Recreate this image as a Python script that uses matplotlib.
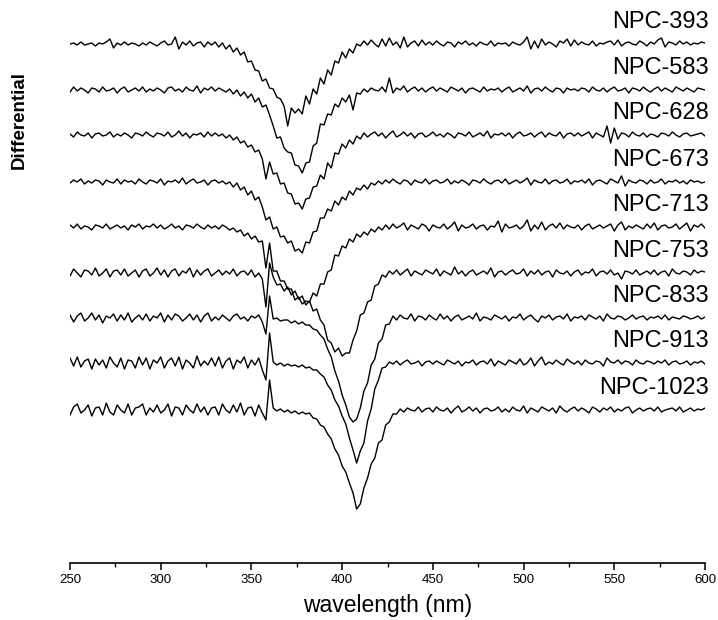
"""
stacked differential spectra of the NPC samples
"""
import numpy as np
import matplotlib
matplotlib.use('Agg')
from matplotlib import pyplot as plt
from matplotlib.ticker import MultipleLocator

plt.rcParams['font.family'] = ['Liberation Sans', 'DejaVu Sans']

# wavelength grid, 2 nm step from 250 to 600 nm
wavelength = np.arange(250, 601, 2)

labels = ['NPC-393', 'NPC-583', 'NPC-628', 'NPC-673', 'NPC-713',
          'NPC-753', 'NPC-833', 'NPC-913', 'NPC-1023']

# vertical offset of each trace (baseline)
offsets = [519, 473, 428, 381, 336, 290, 245, 200, 153]

# traces, relative to their baseline
npc_393 = [
    0, 1, -1, 2, -1, 0, 1, -2, 1, 0, 2, 5, -4, 1, -1, 2, -1, 1, 0, -2,
    1, -1, 2, 0, -2, 1, 3, -1, 0, 7, -5, 2, -1, 3, -2, 1, 2, -3, 2, -1,
    2, -3, 1, -5, -1, -8, -4, -11, -8, -18, -17, -26, -27, -37, -35, -44, -45, -53, -55, -62,
    -82, -64, -69, -65, -70, -52, -60, -45, -50, -34, -40, -26, -31, -17, -19, -8, -14, -5, -9, 0,
    -2, 3, -1, 4, 0, -3, 5, -2, 6, -1, 2, -4, 7, -3, 1, 3, -2, 4, -1, 2,
    -1, 3, 0, -2, 2, 1, -3, 2, 0, 3, -1, 1, -2, 2, 0, -1, 3, -2, 1, 0,
    1, -2, 2, 0, -1, 2, 7, -5, 3, -4, 5, -1, 2, 0, -3, 3, 1, 5, -2, 4,
    -1, 2, 0, -1, 3, -2, 1, 0, 2, 3, -1, 4, -2, 1, 2, 0, -1, 3, 1, -2,
    2, 0, 4, 6, -3, 2, 1, -1, 3, 0, 2, -1, 1, 0, 2, 1,
]
npc_583 = [
    -2, 3, -1, 2, 0, -3, 2, 1, -2, 3, -1, 0, 2, -3, 1, 3, -2, 0, 2, -1,
    3, -2, 1, -1, 2, 0, -3, 2, 3, -1, 1, -2, 3, 0, -1, 4, -3, 2, 0, 3,
    -1, 2, 0, -2, 1, -4, 0, -6, -2, -8, -4, -12, -8, -17, -15, -25, -36, -48, -47, -58,
    -62, -63, -75, -76, -83, -73, -72, -56, -53, -34, -35, -24, -25, -14, -17, -8, -12, -5, -20, -3,
    -4, 1, -2, 2, 0, -1, 3, -2, 12, -3, 2, 0, 4, -2, 1, 3, -1, 2, -2, 1,
    3, -1, 2, 0, -2, 3, 1, -1, 2, -3, 1, 2, 0, -2, 3, -1, 1, 0, 2, -2,
    1, 3, -2, 0, 2, -1, 4, -3, 1, 2, -1, 3, 0, -2, 2, 1, -3, 2, 0, 1,
    -1, 2, 1, -2, 3, 0, -1, 2, -2, 1, 3, -1, 0, 2, -3, 2, 1, -1, 3, 0,
    -2, 1, 3, -1, 2, 0, -2, 3, 1, -1, 2, 0, -2, 2, 1, 0,
]
npc_628 = [
    1, -2, 3, 0, -1, 2, -3, 1, 2, -1, 0, 3, -2, 1, -1, 2, 0, -3, 2, 1,
    -1, 3, 0, -2, 2, 1, -1, 3, -2, 0, 4, -1, 2, -3, 1, 0, 2, -2, 3, -1,
    2, -1, 1, -3, 0, -5, -2, -8, -6, -12, -10, -17, -15, -24, -44, -27, -39, -38, -49, -48,
    -58, -59, -69, -68, -74, -64, -63, -52, -51, -40, -44, -28, -33, -18, -19, -9, -13, -5, -9, -1,
    -4, 2, -2, 1, 3, -1, 2, -3, 1, 4, -2, 0, 3, -1, 2, -3, 1, 2, -2, 0,
    3, -1, 1, -2, 2, 0, -3, 2, 1, -1, 3, -2, 0, 2, -1, 4, -3, 1, 0, 2,
    -1, 2, -3, 1, 3, -1, 0, 2, -2, 1, 3, -2, 2, 0, -1, 3, -3, 1, 2, -1,
    2, -1, 1, 3, -3, 2, 0, -2, 9, -8, 7, -4, 2, 1, -2, 3, 0, -1, 2, -2,
    1, 0, -2, 2, 1, -1, 3, 0, -2, 1, 2, -1, 0, 1, 2, -1,
]
npc_673 = [
    -1, 2, 0, 3, -2, 1, -1, 2, 1, -3, 2, 0, -1, 3, -2, 2, 0, 1, -2, 3,
    0, -2, 2, 1, -1, 3, -3, 1, 0, 2, -1, 4, -2, 1, 3, -1, 0, 2, -3, 1,
    2, -1, 1, -2, 0, -5, -1, -8, -5, -13, -9, -18, -15, -25, -38, -35, -47, -45, -55, -54,
    -61, -59, -69, -67, -71, -60, -61, -50, -49, -36, -36, -27, -29, -19, -23, -15, -18, -9, -13, -6,
    -8, -3, -7, -1, -3, 1, -2, 2, -1, 3, 0, -2, 2, 1, -3, 2, 0, -1, 3, -2,
    1, 2, -1, 0, 3, -2, 1, -1, 2, 0, -3, 2, 1, -1, 3, 0, -2, 1, 2, -1,
    3, -2, 0, 2, -1, 1, 4, -3, 2, 0, -1, 3, -2, 1, 2, -1, 0, 3, -2, 1,
    0, 2, -1, 3, -3, 1, 2, 0, -2, 3, 1, -1, 6, -4, 2, 0, -1, 2, 1, -2,
    2, -1, 0, 3, -2, 1, 0, 2, -1, 1, -2, 2, 0, 1, -1, 0,
]
npc_713 = [
    2, -1, 3, -2, 1, 0, -3, 2, 1, -1, 3, -2, 0, 2, -1, 1, -3, 2, 0, 3,
    -2, 1, 0, 3, -1, 2, -2, 0, 3, -1, 1, -3, 2, 1, -1, 3, 0, -2, 2, -1,
    1, -2, 2, 0, -3, -1, -5, -3, -9, -6, -12, -9, -15, -14, -41, -16, -44, -44, -54, -54,
    -62, -62, -73, -70, -77, -74, -75, -66, -69, -57, -57, -45, -43, -28, -29, -19, -21, -12, -15, -7,
    -10, -5, -8, -2, -5, 0, -3, 2, -2, 3, -1, 1, 4, -3, 2, 0, -2, 3, 1, -4,
    2, 0, -1, 3, -2, 1, 5, -4, 2, -1, 0, 3, -2, 1, 2, -3, 1, 0, 6, -5,
    3, -1, 0, 2, -2, 1, 7, -4, 2, -2, 5, -3, 1, 3, -1, 4, -2, 2, 0, -1,
    2, -3, 1, 3, -2, 0, 2, -1, 1, 3, -4, 2, 5, -3, 1, -1, 2, 0, -2, 3,
    -1, 4, -3, 1, 2, -1, 0, 3, -2, 1, 4, -4, 2, 0, 3, -1,
]
npc_753 = [
    -3, 4, 0, -4, 3, 2, -2, 5, -3, 0, 4, -4, 2, 3, -2, 4, -3, 0, 3, -4,
    2, 4, -3, 0, 5, -2, 3, -4, 2, 4, -3, 2, 0, 5, -4, 3, -2, 2, 4, -3,
    0, 3, -2, 2, -1, 4, -3, 1, 2, -2, 3, -4, 0, -6, -34, 10, -4, -12, -11, -18,
    -14, -22, -18, -26, -23, -32, -28, -38, -36, -47, -52, -67, -70, -79, -75, -83, -80, -80, -67, -58,
    -42, -40, -29, -27, -13, -11, -2, -4, 2, -1, 3, -2, 1, 4, -3, 2, 0, -2, 3, 1,
    -1, 4, -3, 2, 0, -2, 6, -1, 2, -3, 1, 3, -2, 0, 2, -1, 5, -4, 1, 2,
    -2, 1, 3, -1, 0, 4, -3, 2, -1, 3, -2, 1, 2, -4, 3, 0, -1, 2, -3, 1,
    3, -2, 1, 0, 4, -3, 1, 2, -1, 3, -2, 0, -6, 2, 1, -1, 3, -2, 0, 2,
    -1, 3, -2, 1, 2, -3, 4, 0, -1, 2, 1, -2, 3, 0, 2, 1,
]
npc_833 = [
    3, -4, 2, 5, -3, 0, 5, -2, 3, -5, 2, 0, 4, -3, 3, -2, 5, -4, 0, 3,
    -2, 4, -3, 2, 0, 5, -4, 3, -2, 4, 2, -3, 0, 4, -2, 3, -4, 2, 5, -3,
    1, -2, 3, 0, -3, 2, 4, -1, 1, -3, 2, 0, 3, -4, -16, 22, -1, 0, -3, -2,
    -2, -5, -3, -6, -4, -7, -7, -11, -12, -17, -21, -31, -39, -53, -63, -77, -87, -99, -104, -101,
    -90, -73, -65, -47, -41, -25, -21, -7, -6, 2, -2, 3, 0, -1, 4, -3, 2, 1, -2, 3,
    0, -2, 4, -1, 2, -3, 1, 3, -2, 0, 2, -1, 5, -3, 1, 0, -2, 3, 1, -1,
    2, -3, 1, 0, 4, -2, 1, 3, -1, -4, 2, 0, 3, -2, 1, 2, -1, 4, -3, 1,
    0, 2, -2, 3, 1, -1, 2, -3, 4, 0, -1, 2, 1, -2, 0, 3, -1, 1, 2, -2,
    1, 0, 2, -1, 3, -2, 1, 0, -1, 2, 1, -1, 0, 2, -1, 1,
]
npc_913 = [
    5, -3, 6, -4, 2, 4, -6, 4, -2, 3, -5, 6, 0, -4, 5, -6, 3, 2, -5, 6,
    -2, 5, -6, 3, 0, 6, -5, 2, 5, -3, 6, -6, 3, 0, -5, 7, -3, 2, -2, 5,
    -3, 6, -5, 2, 5, -6, 3, 0, 6, -5, 3, -2, 5, -7, -17, 30, 1, -2, 0, -3,
    -1, -3, -2, -4, -2, -5, -4, -7, -7, -11, -14, -22, -27, -37, -43, -53, -61, -75, -87, -100,
    -88, -80, -58, -46, -26, -17, -5, -4, 1, -1, 2, -2, 1, 3, -1, 0, 2, -3, 1, 2,
    -1, 2, 0, -2, 3, 1, -1, 2, -3, 1, 0, 3, -2, 1, 2, -1, 4, -3, 2, 0,
    -2, 3, 1, -1, 4, -2, 0, 5, -3, 2, 6, -2, 1, -1, 3, 0, -2, 4, 1, -1,
    2, -2, 3, 0, -1, 2, 1, -3, 5, 1, 0, 3, -1, 2, 1, -2, 3, 0, -1, 2,
    1, -1, 2, 0, 3, -2, 1, 2, -1, 0, 2, -2, 1, 0, 2, -1,
]
npc_1023 = [
    -5, 3, 6, -3, 0, 5, -6, 2, 3, -5, 7, -2, -5, 5, 0, -3, 6, -5, 2, 3,
    6, -5, 2, -2, 5, -3, 0, 6, -6, 3, 2, -5, 5, 0, -3, 6, -2, 3, -5, 2,
    3, -5, 6, 0, -3, 5, -2, 7, -5, 2, 3, -6, 5, -3, -10, 30, 2, -1, 1, -2,
    0, -3, -1, -4, -2, -4, -3, -8, -9, -15, -17, -24, -29, -39, -45, -56, -62, -73, -83, -99,
    -94, -78, -68, -54, -48, -33, -30, -15, -12, -4, -4, 1, -2, 2, 0, -1, 3, -2, 1, 2,
    -2, 3, 0, -1, 2, -3, 1, 4, -2, 0, 3, -1, 2, -3, 1, 2, -1, 0, 3, -2,
    1, -2, 3, 0, -1, 4, -3, 2, 0, -2, 3, 1, -1, 2, -3, 4, 0, -2, 1, 3,
    -1, 2, 0, -3, 3, 1, -2, 2, 0, 3, -2, 1, -1, 2, 3, -3, 0, 2, -1, 1,
    2, -1, 3, -2, 0, 1, 2, -1, 3, -2, 0, 2, -1, 1, 0, 2,
]

traces = [npc_393, npc_583, npc_628, npc_673, npc_713,
          npc_753, npc_833, npc_913, npc_1023]


fig = plt.figure(figsize=(7.18, 6.2), dpi=100)
ax = fig.add_axes([70 / 718, 57 / 620, 635 / 718, 553 / 620])

for name, base, trace in zip(labels, offsets, traces):
    ax.plot(wavelength, base + np.asarray(trace), color='black', linewidth=1.0)
    ax.text(602, base + 22, name, ha='right', va='center', fontsize=17, clip_on=False)

ax.set_xlim(250, 600)
ax.set_ylim(0, 553)

for side in ['left', 'top', 'right']:
    ax.spines[side].set_visible(False)
ax.spines['bottom'].set_linewidth(1.2)
ax.set_yticks([])

ax.xaxis.set_major_locator(MultipleLocator(50))
ax.xaxis.set_minor_locator(MultipleLocator(25))
ax.tick_params(axis='x', which='major', length=5, width=1.1, labelsize=9.5, pad=3)
ax.tick_params(axis='x', which='minor', length=3, width=1.0)

ax.set_xlabel('wavelength (nm)', fontsize=16.5, labelpad=6)
fig.text(19 / 718, 1 - 120 / 620, 'Differential', rotation=90, fontsize=13.5,
         fontweight='bold', ha='center', va='center')

plt.savefig('out.png', dpi=100)
